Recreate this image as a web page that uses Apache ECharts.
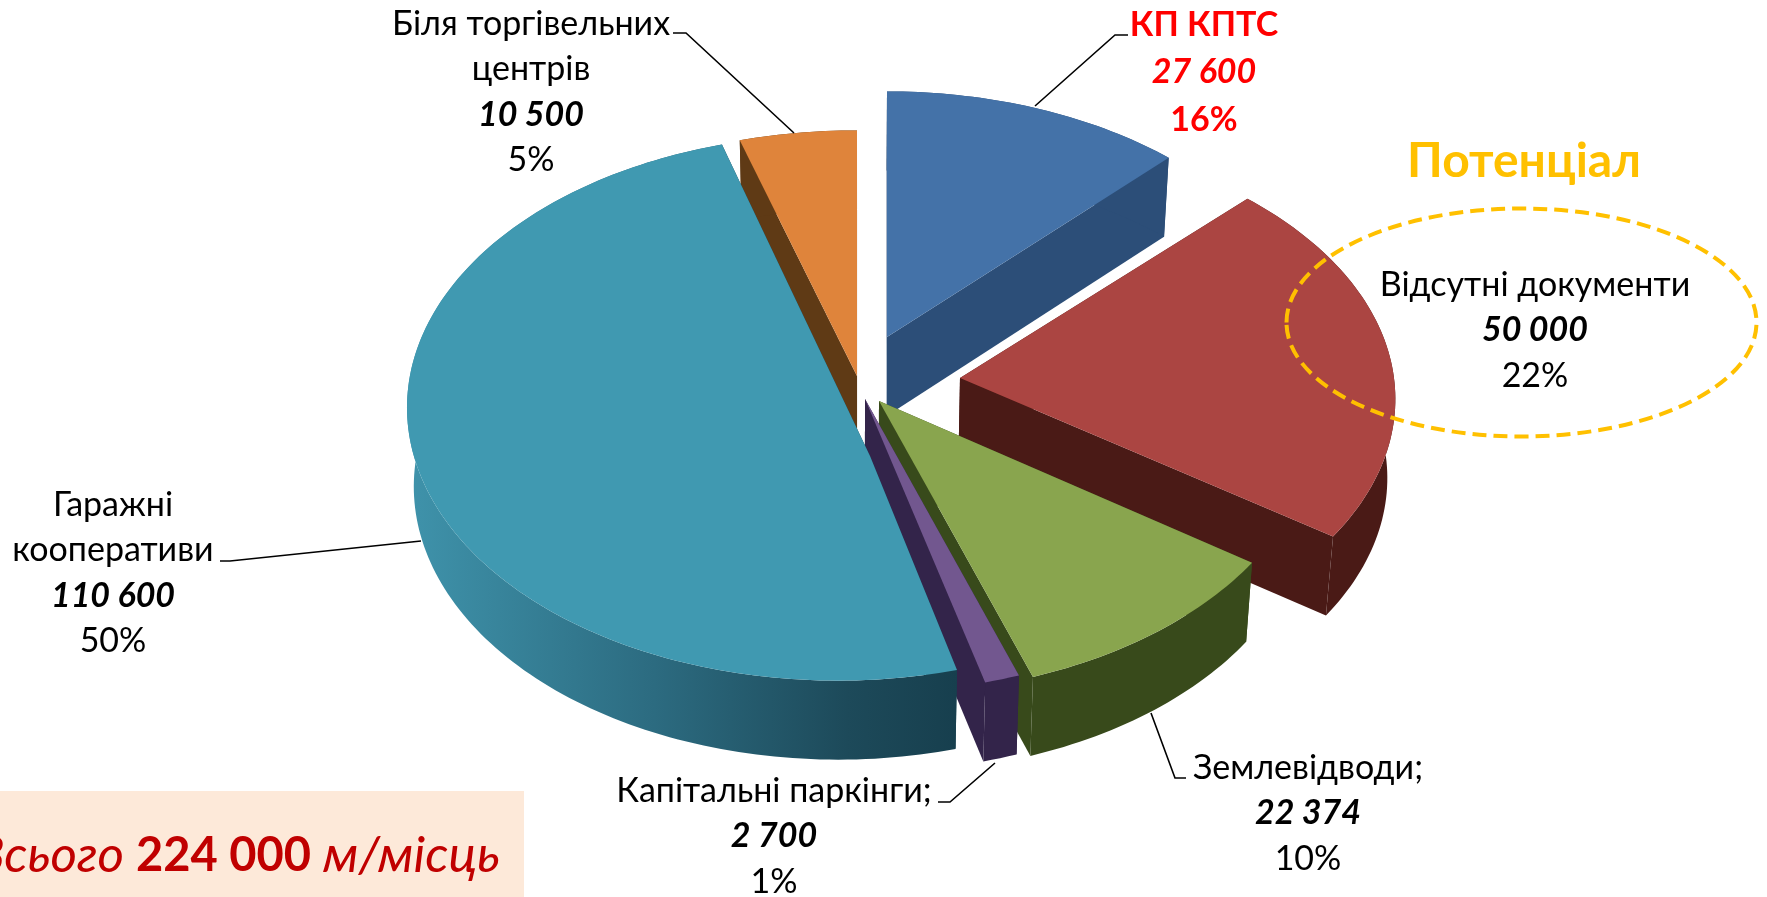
<!DOCTYPE html>
<html lang="uk">

<head>
    <meta charset="utf-8">
    <script src="https://cdn.jsdelivr.net/npm/echarts@6/dist/echarts.min.js"></script>
    <style>
        html, body {
            margin: 0;
            background: #fff;
        }

        #chart {
            width: 1767px;
            height: 897px;
        }
    </style>
</head>

<body>
    <div id="chart"></div>
    <script>
        const categories = ['КП КПТС', 'Відсутні документи', 'Землевідводи;', 'Капітальні паркінги;', 'Гаражні\nкооперативи', 'Біля торгівельних\nцентрів']
        const values = [27600, 50000, 22374, 2700, 110600, 10500]
        const percentLabels = ['16%', '22%', '10%', '1%', '50%', '5%']
        const totalLabel = '224 000'

        // кольори: верх і бічна стінка кожного сектора
        const topColors = ['#4472a8', '#ab4542', '#89a54e', '#72578f', '#4099b1', '#df843b']
        const wallColors = ['#2c4e78', '#4a1a16', '#384a1b', '#33244a', '#2a6a80', '#5f3a15']

        // геометрія псевдо-3D
        const CENTER = [860, 390], RX = 434, RY = 265, PERSPECTIVE = 0.079, DEPTH = 79
        // зміщення секторів (exploded)
        const shifts = [[27, -53], [100, -12], [19, 11], [5, 9], [-22, -4], [-3, -14]]
        // поправка радіусів [x, y] для кожного сектора
        const radiusFix = [[0.98, 1], [1, 1], [1, 1.02], [1, 1.022], [0.99, 1.024], [1, 1]]
        // вершина сектора відносно центра еліпса (у великого сектора вона зсунута через перспективу)
        const apexFix = [[0, 0], [0, 0], [0, 0], [0, 0], [32, 70], [0, 0]]
        // порядок малювання: від дальніх до ближніх
        const drawOrder = [0, 1, 5, 2, 3, 4]

        const total = values.reduce((a, b) => a + b, 0)
        let cum = 0
        const ranges = values.map(v => {
            let r = [cum, cum + v]
            cum += v
            return r
        })

        function toAngle(v) {
            return echarts.number.linearMap(v, [0, total], [0, Math.PI * 2])
        }

        // точка на ободі сектора; down=true - нижній край стінки
        function rim(angle, i, down) {
            let shift = shifts[i], fix = radiusFix[i]
            let s = 1 / (1 + PERSPECTIVE * Math.cos(angle))
            let x = CENTER[0] + shift[0] + RX * fix[0] * Math.sin(angle) * s
            let y = CENTER[1] + shift[1] - RY * fix[1] * Math.cos(angle) * s
            if (down) {
                x = CENTER[0] + (x - CENTER[0]) * 0.985
                y += DEPTH
            }
            return [x, y]
        }

        function apex(i, down) {
            let x = CENTER[0] + shifts[i][0] + apexFix[i][0], y = CENTER[1] + shifts[i][1] + apexFix[i][1]
            return down ? [CENTER[0] + (x - CENTER[0]) * 0.985, y + DEPTH] : [x, y]
        }

        function arc(from, to, i, down) {
            let pts = [], n = Math.max(2, Math.ceil((to - from) / 0.02))
            for (let k = 0; k <= n; k++) {
                pts.push(rim(from + (to - from) * k / n, i, down))
            }
            return pts
        }

        function poly(points, fill) {
            return { type: 'polygon', silent: true, shape: { points: points }, style: { fill: fill, stroke: null } }
        }

        function renderSlice(params, api) {
            let i = api.value(0)
            let a0 = toAngle(api.value(1)), a1 = toAngle(api.value(2))
            let wall = wallColors[i]
            // у великого сектора стінка темнішає зліва направо
            let outer = i == 4 ? new echarts.graphic.LinearGradient(0, 0, 1, 0, [
                { offset: 0, color: '#3f93ab' },
                { offset: 0.45, color: '#2c6b80' },
                { offset: 0.8, color: '#1d4a5a' },
                { offset: 1, color: '#173f4e' }
            ]) : wall
            let side = i == 4 ? '#173f4e' : wall
            let topArc = arc(a0, a1, i, false)
            let bottomArc = arc(a0, a1, i, true)
            return {
                type: 'group',
                children: [
                    poly([apex(i), rim(a0, i), rim(a0, i, true), apex(i, true)], side),
                    poly([apex(i), rim(a1, i), rim(a1, i, true), apex(i, true)], side),
                    poly(topArc.concat(bottomArc.slice().reverse()), outer),
                    poly([apex(i)].concat(topArc), topColors[i])
                ]
            }
        }

        const FONT = 'Lato, "Open Sans", "Noto Sans", sans-serif'
        const LINE = 45.5
        // підписи: центр по x, y першого рядка
        const labelPos = [[1204, 25], [1535, 285], [1308, 768], [774, 791], [113, 505], [531, 24]]
        // виноски
        const leaders = [
            [[1128, 35], [1115, 35], [1035, 106]],
            null,
            [[1151, 713], [1175, 778], [1186, 778]],
            [[938, 802], [950, 802], [995, 763]],
            [[220, 561], [230, 561], [421, 541]],
            [[673, 33], [686, 33], [794, 133]]
        ]

        function textEl(text, x, y, size, weight, italic, color) {
            return {
                type: 'text',
                z: 10,
                silent: true,
                style: {
                    text: text, x: x, y: y,
                    align: 'center', verticalAlign: 'middle',
                    textAlign: 'center', textVerticalAlign: 'middle',
                    fontFamily: FONT, fontSize: size, fontWeight: weight,
                    fontStyle: italic ? 'italic' : 'normal',
                    fill: color
                }
            }
        }

        let graphics = []
        // плашка з підсумком
        graphics.push({ type: 'rect', z: 1, silent: true, shape: { x: 0, y: 791, width: 524, height: 106 }, style: { fill: '#fde9d9' } })
        graphics.push({
            type: 'text', z: 10, silent: true,
            style: {
                x: 500, y: 856,
                align: 'right', verticalAlign: 'middle',
                textAlign: 'right', textVerticalAlign: 'middle',
                text: '{a|Всього }{b|' + totalLabel + '}{a| м/місць}',
                rich: {
                    a: { fontFamily: FONT, fontSize: 51, fontStyle: 'italic', fill: '#c00000' },
                    b: { fontFamily: FONT, fontSize: 47, fontWeight: 'bold', fill: '#c00000' }
                }
            }
        })
        // еліпс "Потенціал"
        graphics.push({
            type: 'ellipse', z: 9, silent: true,
            shape: { cx: 1521.5, cy: 322.5, rx: 235, ry: 114 },
            style: { fill: null, stroke: '#ffc000', lineWidth: 4, lineDash: [14, 7] }
        })
        graphics.push(textEl('Потенціал', 1524, 162, 48, 'bold', false, '#ffc000'))

        leaders.forEach(pts => {
            if (!pts) return
            graphics.push({
                type: 'polyline', z: 8, silent: true,
                shape: { points: pts },
                style: { fill: null, stroke: '#000', lineWidth: 1.6 }
            })
        })

        categories.forEach((name, i) => {
            let hot = i == 0
            let color = hot ? '#ff0000' : '#000'
            let step = hot ? 47.5 : LINE
            let x = labelPos[i][0], y = labelPos[i][1]
            let lines = name.split('\n')
            lines.forEach(l => {
                graphics.push(textEl(l, x, y, 34, hot ? 'bold' : 'normal', false, color))
                y += step
            })
            graphics.push(textEl(String(values[i]).replace(/\B(?=(\d{3})+$)/g, ' '), x, y, 34, 'bold', true, color))
            y += step
            graphics.push(textEl(percentLabels[i], x, y, 34, hot ? 'bold' : 'normal', false, color))
        })

        let chart = echarts.init(document.querySelector('#chart'))
        chart.setOption({
            animation: false,
            backgroundColor: '#fff',
            graphic: { elements: graphics },
            series: [{
                type: 'custom',
                coordinateSystem: 'none',
                silent: true,
                renderItem: renderSlice,
                data: drawOrder.map(i => [i, ranges[i][0], ranges[i][1]])
            }]
        })
    </script>

</body>

</html>
